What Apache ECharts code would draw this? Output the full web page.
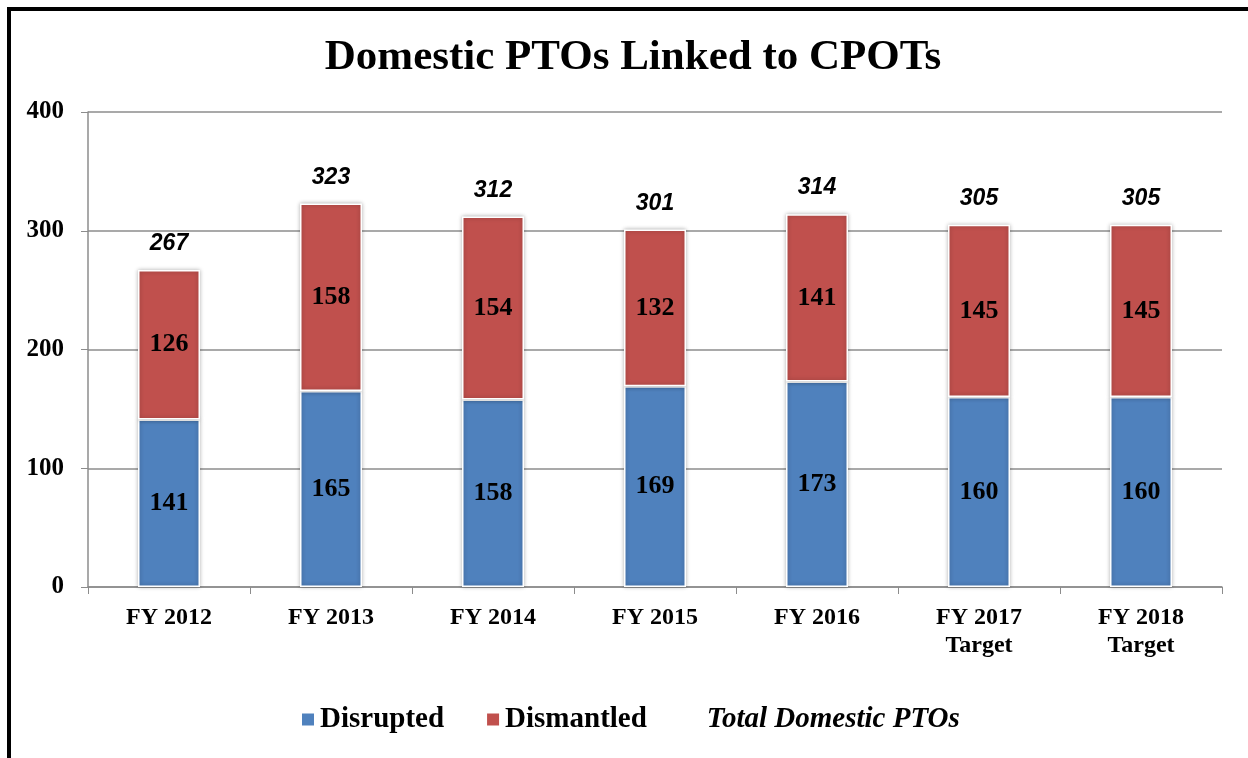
<!DOCTYPE html>
<html>
<head>
<meta charset="utf-8">
<script src="https://cdn.jsdelivr.net/npm/echarts@6/dist/echarts.min.js"></script>
<style>
  html, body { margin: 0; padding: 0; background: #fff; }
  #chart { width: 1248px; height: 758px; }
</style>
</head>
<body>
<div id="chart"></div>
<script>
var categories = ["FY 2012", "FY 2013", "FY 2014", "FY 2015", "FY 2016", "FY 2017\nTarget", "FY 2018\nTarget"];
var disrupted = [141, 165, 158, 169, 173, 160, 160];
var dismantled = [126, 158, 154, 132, 141, 145, 145];
var totals = [267, 323, 312, 301, 314, 305, 305];
var yTicks = [0, 100, 200, 300, 400];

var serif = "'Liberation Serif', 'Times New Roman', serif";

var chart = echarts.init(document.getElementById("chart"));

var barStyle = function (color) {
  return {
    color: color,
    borderColor: "#fff",
    borderWidth: 1.5,
    shadowBlur: 4,
    shadowColor: "rgba(0,0,0,0.3)"
  };
};

var segLabel = {
  show: true,
  position: "inside",
  color: "#000",
  fontFamily: serif,
  fontWeight: "bold",
  fontSize: 26
};

var option = {
  backgroundColor: "#fff",
  animation: false,
  graphic: [
    {
      type: "rect",
      shape: { x: 9, y: 9, width: 1400, height: 900 },
      style: { fill: "none", stroke: "#000", lineWidth: 4 },
      silent: true
    }
  ],
  title: {
    text: "Domestic PTOs Linked to CPOTs",
    left: 628,
    textAlign: "center",
    top: 31,
    textStyle: {
      fontFamily: serif,
      fontWeight: "bold",
      fontSize: 43,
      color: "#000"
    }
  },
  legend: {
    left: 295,
    top: 700,
    itemWidth: 14,
    itemHeight: 14,
    itemGap: 41,
    selectedMode: false,
    textStyle: {
      fontFamily: serif,
      fontWeight: "bold",
      fontSize: 29,
      color: "#000"
    },
    data: [
      { name: "Disrupted", icon: "rect" },
      { name: "Dismantled", icon: "rect" },
      { name: "Total Domestic PTOs", icon: "none", textStyle: { fontStyle: "italic" } }
    ]
  },
  grid: {
    left: 88,
    right: 26,
    top: 112,
    bottom: 171
  },
  xAxis: {
    type: "category",
    data: categories,
    axisLine: { lineStyle: { color: "#8c8c8c", width: 1.5 } },
    axisTick: { show: true, length: 7, lineStyle: { color: "#8c8c8c" } },
    axisLabel: {
      margin: 17,
      color: "#000",
      fontFamily: serif,
      fontWeight: "bold",
      fontSize: 24,
      lineHeight: 28
    }
  },
  yAxis: {
    type: "value",
    min: yTicks[0],
    max: yTicks[yTicks.length - 1],
    interval: 100,
    axisLine: { show: true, lineStyle: { color: "#8c8c8c", width: 1.5 } },
    axisTick: { show: true, length: 7, lineStyle: { color: "#8c8c8c" } },
    splitLine: { lineStyle: { color: "#8c8c8c", width: 1.5 } },
    axisLabel: {
      margin: 24,
      color: "#000",
      fontFamily: serif,
      fontWeight: "bold",
      fontSize: 25
    }
  },
  series: [
    {
      name: "Disrupted",
      type: "bar",
      stack: "pto",
      barWidth: 62,
      itemStyle: barStyle("#4F81BD"),
      label: segLabel,
      data: disrupted
    },
    {
      name: "Dismantled",
      type: "bar",
      stack: "pto",
      barWidth: 62,
      itemStyle: barStyle("#C0504D"),
      label: segLabel,
      data: dismantled
    },
    {
      name: "Total Domestic PTOs",
      type: "line",
      symbol: "circle",
      symbolSize: 1,
      showSymbol: true,
      itemStyle: { color: "rgba(0,0,0,0)" },
      lineStyle: { width: 0, color: "rgba(0,0,0,0)" },
      label: {
        show: true,
        position: "top",
        distance: 14,
        color: "#000",
        fontFamily: "'Liberation Sans', Arial, sans-serif",
        fontStyle: "italic",
        fontWeight: "bold",
        fontSize: 23
      },
      z: 5,
      data: totals
    }
  ]
};

chart.setOption(option);
</script>
</body>
</html>
